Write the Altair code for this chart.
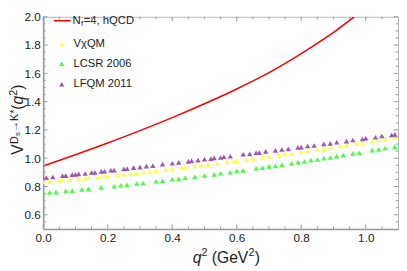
import altair as alt
import pandas as pd

W, H = 363, 217
FONT = "Liberation Sans"
TXT = "#222222"
AX = "#999999"

# ---- data ----
hqcd_q2 = [0.0, 0.1, 0.2, 0.3, 0.4, 0.5, 0.6, 0.7, 0.8, 0.9, 0.964]
hqcd_v = [0.945, 1.025, 1.108, 1.195, 1.287, 1.385, 1.49, 1.605, 1.74, 1.89, 2.0]

vxqm_q2 = [0.00, 0.02, 0.05, 0.06, 0.08, 0.11, 0.13, 0.14, 0.17, 0.19, 0.20, 0.23, 0.25,
           0.27, 0.29, 0.31, 0.33, 0.35, 0.38, 0.40, 0.43, 0.44, 0.47, 0.49, 0.51, 0.54,
           0.57, 0.59, 0.60, 0.63, 0.65, 0.68, 0.70, 0.73, 0.75, 0.77, 0.80, 0.82, 0.85,
           0.87, 0.89, 0.92, 0.94, 0.97, 0.99, 1.02, 1.04, 1.06, 1.09]
vxqm_v = [0.833, 0.838, 0.842, 0.846, 0.849, 0.857, 0.859, 0.863, 0.869, 0.874, 0.875, 0.884,
          0.887, 0.891, 0.898, 0.901, 0.908, 0.912, 0.921, 0.924, 0.934, 0.935, 0.945, 0.949,
          0.956, 0.963, 0.974, 0.978, 0.983, 0.990, 0.998, 1.005, 1.013, 1.021, 1.029, 1.034,
          1.046, 1.051, 1.063, 1.068, 1.076, 1.085, 1.094, 1.103, 1.112, 1.121, 1.131, 1.136,
          1.150]

lcsr_q2 = [0.00, 0.02, 0.04, 0.07, 0.09, 0.12, 0.14, 0.18, 0.22, 0.24, 0.26, 0.29, 0.31,
           0.35, 0.37, 0.40, 0.42, 0.44, 0.47, 0.50, 0.53, 0.55, 0.58, 0.60, 0.62, 0.66,
           0.68, 0.70, 0.72, 0.74, 0.77, 0.79, 0.81, 0.83, 0.85, 0.87, 0.89, 0.91, 0.93,
           0.96, 0.98, 1.02, 1.04, 1.06, 1.09]
lcsr_v = [0.753, 0.758, 0.760, 0.769, 0.771, 0.780, 0.783, 0.794, 0.802, 0.809, 0.812, 0.821,
          0.825, 0.837, 0.841, 0.851, 0.854, 0.862, 0.869, 0.879, 0.886, 0.894, 0.901, 0.910,
          0.914, 0.929, 0.933, 0.942, 0.946, 0.955, 0.963, 0.972, 0.977, 0.986, 0.991, 1.001,
          1.006, 1.015, 1.021, 1.034, 1.039, 1.057, 1.063, 1.072, 1.082]

lfqm_q2 = [0.00, 0.01, 0.03, 0.06, 0.07, 0.09, 0.10, 0.11, 0.13, 0.15, 0.16, 0.18, 0.19,
           0.21, 0.22, 0.25, 0.26, 0.28, 0.30, 0.32, 0.34, 0.37, 0.40, 0.42, 0.45, 0.46,
           0.48, 0.50, 0.52, 0.53, 0.55, 0.56, 0.58, 0.62, 0.64, 0.66, 0.67, 0.69, 0.72,
           0.74, 0.76, 0.79, 0.80, 0.82, 0.84, 0.87, 0.89, 0.91, 0.94, 0.96, 0.99, 1.00,
           1.03, 1.05, 1.08, 1.09]
lfqm_v = [0.860, 0.863, 0.867, 0.876, 0.877, 0.884, 0.885, 0.889, 0.892, 0.899, 0.900, 0.907,
          0.908, 0.915, 0.916, 0.925, 0.926, 0.933, 0.937, 0.944, 0.948, 0.958, 0.964, 0.971,
          0.978, 0.982, 0.986, 0.993, 0.997, 1.002, 1.005, 1.010, 1.014, 1.028, 1.031, 1.039,
          1.040, 1.048, 1.055, 1.062, 1.066, 1.077, 1.078, 1.086, 1.090, 1.101, 1.105, 1.113,
          1.121, 1.129, 1.136, 1.141, 1.148, 1.157, 1.164, 1.169]

series_names = ["VχQM", "LCSR 2006", "LFQM 2011"]
series_colors = ["#FFFF44", "#44FF44", "#A353B0"]

x_major = [0.0, 0.2, 0.4, 0.6, 0.8, 1.0]
x_minor = [0.05, 0.1, 0.15, 0.25, 0.3, 0.35, 0.45, 0.5, 0.55, 0.65, 0.7, 0.75,
           0.85, 0.9, 0.95, 1.05]
y_major = [0.6, 0.8, 1.0, 1.2, 1.4, 1.6, 1.8, 2.0]
y_minor = [0.55, 0.65, 0.7, 0.75, 0.85, 0.9, 0.95, 1.05, 1.1, 1.15, 1.25, 1.3, 1.35,
           1.45, 1.5, 1.55, 1.65, 1.7, 1.75, 1.85, 1.9, 1.95]

# ---- tables ----
line_df = pd.DataFrame({"q2": hqcd_q2, "v": hqcd_v})
pts_df = pd.concat([
    pd.DataFrame({"q2": vxqm_q2, "v": vxqm_v, "s": series_names[0], "o": 0}),
    pd.DataFrame({"q2": lcsr_q2, "v": lcsr_v, "s": series_names[1], "o": 1}),
    pd.DataFrame({"q2": lfqm_q2, "v": lfqm_v, "s": series_names[2], "o": 2}),
], ignore_index=True)

xs = alt.Scale(domain=[0, 1.1], nice=False, zero=False)
ys = alt.Scale(domain=[0.5, 2.0], nice=False, zero=False)
xaxis = alt.Axis(title=None, values=x_major, format=".1f", ticks=False, grid=False,
                 domainColor=AX, domainWidth=1.6, labelFont=FONT, labelFontSize=12,
                 labelColor=TXT, labelPadding=4, labelFlush=False)
yaxis = alt.Axis(title=None, values=y_major, format=".1f", ticks=False, grid=False,
                 domainColor=AX, domainWidth=1.6, labelFont=FONT, labelFontSize=12,
                 labelColor=TXT, labelPadding=3, labelFlush=False)


def X(f):
    return alt.X(f, type="quantitative", scale=xs, axis=xaxis)


def Y(f):
    return alt.Y(f, type="quantitative", scale=ys, axis=yaxis)


line = alt.Chart(line_df).mark_line(color="#FF0000", strokeWidth=1.6,
                                    interpolate="monotone", clip=True).encode(x=X("q2"), y=Y("v"))

pts = alt.Chart(pts_df).mark_point(shape="triangle-up", filled=True, size=30, opacity=1,
                                   clip=True).encode(
    x=X("q2"), y=Y("v"),
    color=alt.Color("s:N", scale=alt.Scale(domain=series_names, range=series_colors), legend=None),
    order=alt.Order("o:Q"),
)

# inward frame ticks
def xticks(vals, ln):
    d = pd.DataFrame({"t": vals})
    b = alt.Chart(d).mark_rule(color=AX, strokeWidth=1).encode(x=X("t"), y=alt.value(H), y2=alt.value(H - ln))
    t = alt.Chart(d).mark_rule(color=AX, strokeWidth=1).encode(x=X("t"), y=alt.value(0), y2=alt.value(ln))
    return [b, t]


def yticks(vals, ln):
    d = pd.DataFrame({"t": vals})
    l = alt.Chart(d).mark_rule(color=AX, strokeWidth=1).encode(y=Y("t"), x=alt.value(0), x2=alt.value(ln))
    r = alt.Chart(d).mark_rule(color=AX, strokeWidth=1).encode(y=Y("t"), x=alt.value(W), x2=alt.value(W - ln))
    return [l, r]


ticks = xticks(x_major, 4.5) + xticks(x_minor, 2.5) + yticks(y_major, 4.5) + yticks(y_minor, 2.5)


def txt(s, x, y, size, angle=0, style="normal", baseline="alphabetic"):
    return alt.Chart(alt.Data(values=[{}])).mark_text(
        text=s, fontSize=size, font=FONT, fontStyle=style, angle=angle, align="left",
        baseline=baseline, color=TXT).encode(x=alt.value(x), y=alt.value(y))


# x-axis title  q² (GeV²)
xt = [
    txt("q", 153, 252, 16, style="italic"),
    txt("2", 162, 245, 11),
    txt("(GeV", 172.5, 252, 16),
    txt("2", 210, 245, 11),
    txt(")", 216.5, 252, 16),
]

# y-axis title  V^{Ds→K*}(q²), rotated
yt = [
    txt("V", -21, 141, 16, angle=270),
    txt("D", -26, 130, 11, angle=270),
    txt("s", -23.5, 122, 8, angle=270),
    txt("→K*", -26, 117.5, 11, angle=270),
    txt("(", -21, 95, 16, angle=270),
    txt("q", -21, 89.7, 16, angle=270, style="italic"),
    txt("2", -27, 80.8, 11, angle=270),
    txt(")", -21, 74.7, 16, angle=270),
]

# legend
leg_line = alt.Chart(alt.Data(values=[{}])).mark_rule(color="#FF0000", strokeWidth=1.6).encode(
    x=alt.value(11), x2=alt.value(28), y=alt.value(4))


def leg_tri(color, y):
    return alt.Chart(alt.Data(values=[{}])).mark_point(
        shape="triangle-up", filled=True, size=30, opacity=1, color=color).encode(
        x=alt.value(19), y=alt.value(y))


leg = [
    leg_line,
    txt("N", 30, 4, 11.5, baseline="middle"),
    txt("f", 38.6, 7.5, 8, baseline="middle"),
    txt("=4, hQCD", 41.5, 4, 11.5, baseline="middle"),
    leg_tri(series_colors[0], 28), txt(series_names[0], 31, 28, 11.5, baseline="middle"),
    leg_tri(series_colors[1], 48), txt(series_names[1], 31, 48, 11.5, baseline="middle"),
    leg_tri(series_colors[2], 69), txt(series_names[2], 31, 69, 11.5, baseline="middle"),
]

chart = alt.layer(line, pts, *ticks, *xt, *yt, *leg).properties(
    width=W, height=H, padding=0, background="white"
).configure_view(stroke="#b5b5b5", strokeWidth=1)

chart.save("out.html", embed_options={"renderer": "svg", "actions": False})
